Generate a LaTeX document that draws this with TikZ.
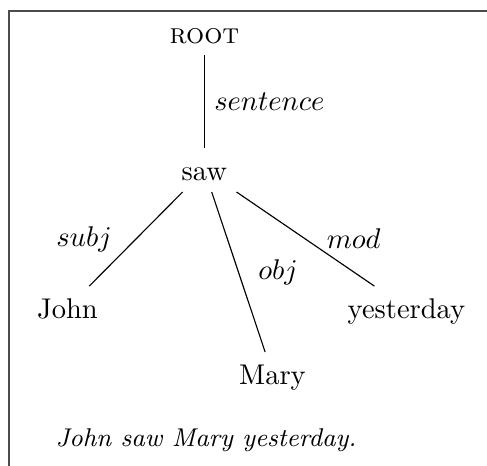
\documentclass[tikz,border=0pt]{standalone}
\usepackage{tikz}
\usetikzlibrary{positioning}
\tikzset{
  word/.style={inner sep=3.5pt,text height=7.5pt,text depth=0.5pt,anchor=base},
  rel/.style={inner sep=3.3pt},
  dep/.style={black,line width=0.4pt},
  frameline/.style={black!70,line width=0.6pt},
  caption/.style={font=\small\itshape,inner sep=0pt,anchor=base west},
}

\begin{document}
\begin{tikzpicture}
    \useasboundingbox (0,0) rectangle (6,5.741);
    \draw[frameline] (0.111,0)--(0.111,5.606)--(6,5.606);

    \node[word] (root) at (2.518,5.211) {\textsc{root}};
    \node[word] (saw) at (2.518,3.523) {saw};
    \node[word] (john) at (0.832,1.823) {John};
    \node[word] (mary) at (3.357,1.010) {Mary};
    \node[word] (yesterday) at (5.008,1.823) {yesterday};

    \draw[dep] (root) -- node[rel,right] {$sentence$} (saw);
    \draw[dep] (saw) -- node[rel,left=5pt] {$subj$} (john);
    \draw[dep] (saw) -- node[rel,right=3.5pt] {$obj$} (mary);
    \draw[dep] (saw) -- node[rel,right=4pt] {$mod$} (yesterday);

    \node[caption] (sent) at (0.678,0.234) {John saw Mary yesterday.};
  \end{tikzpicture}
\end{document}
